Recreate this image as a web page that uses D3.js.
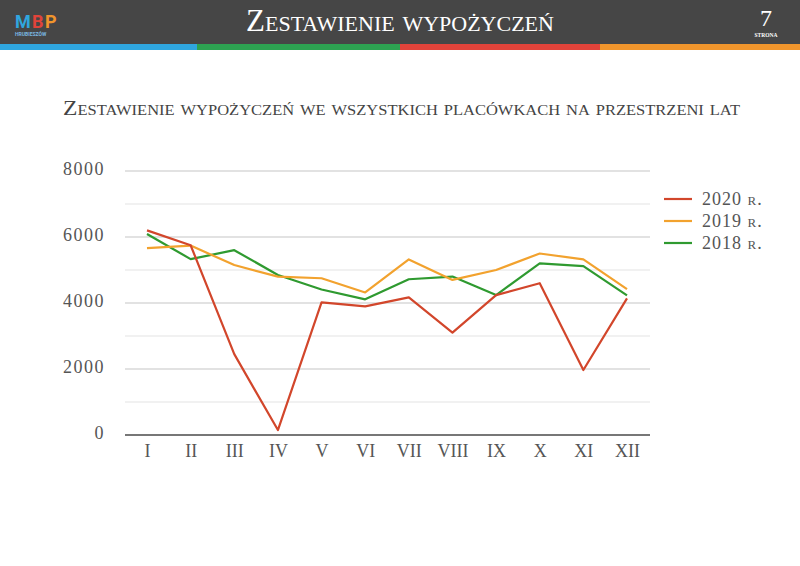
<!DOCTYPE html>
<html>
<head>
<meta charset="utf-8">
<script src="https://d3js.org/d3.v7.min.js"></script>
<style>
  body { margin: 0; background: #fff; }
  text { font-family: "Liberation Serif", "DejaVu Serif", serif; }
</style>
</head>
<body>
<div id="container"></div>
<script>
var months = ["I", "II", "III", "IV", "V", "VI", "VII", "VIII", "IX", "X", "XI", "XII"];
var seriesNames = ["2020 r.", "2019 r.", "2018 r."];
var seriesColors = ["#d2462b", "#f2a22e", "#2f9a30"];
var values2020 = [6200, 5750, 2450, 150, 4020, 3900, 4170, 3100, 4240, 4600, 1970, 4140];
var values2019 = [5660, 5740, 5150, 4800, 4750, 4320, 5320, 4700, 5000, 5500, 5320, 4420];
var values2018 = [6090, 5330, 5600, 4850, 4410, 4110, 4720, 4800, 4240, 5200, 5120, 4230];
var yTicks = [0, 2000, 4000, 6000, 8000];
var yGrid = [1000, 2000, 3000, 4000, 5000, 6000, 7000, 8000];

var width = 800, height = 566;
var svg = d3.select("#container").append("svg")
    .attr("width", width)
    .attr("height", height);

// header band
svg.append("rect").attr("x", 0).attr("y", 0).attr("width", width).attr("height", 44).attr("fill", "#464646");
var stripes = ["#2fa6df", "#2da251", "#e1433a", "#f0952c"];
stripes.forEach(function(c, i) {
    svg.append("rect").attr("x", i * 200 - (i == 1 ? 3 : 0)).attr("y", 44)
        .attr("width", 200 + (i == 1 ? 3 : 0)).attr("height", 6).attr("fill", c);
});
svg.append("text").attr("x", 400).attr("y", 31).attr("text-anchor", "middle")
    .attr("fill", "#fff").style("font-size", "31px").style("font-variant", "small-caps")
    .text("Zestawienie wypożyczeń");
svg.append("text").attr("x", 766).attr("y", 26).attr("text-anchor", "middle")
    .attr("fill", "#fff").style("font-size", "24px").text("7");
svg.append("text").attr("x", 766).attr("y", 37).attr("text-anchor", "middle")
    .attr("fill", "#fff").style("font-size", "5.5px").style("font-weight", "bold").text("STRONA");

// logo
var logo = svg.append("g").attr("transform", "translate(15,28)");
[["M", "#2fa6df", 0], ["B", "#e1433a", 17], ["P", "#f0952c", 30]].forEach(function(l) {
    logo.append("text").attr("x", l[2]).attr("y", 0).attr("fill", l[1])
        .style("font-family", "Roboto, sans-serif").style("font-weight", "bold")
        .style("font-size", "18px").text(l[0]);
});
logo.append("text").attr("x", 0).attr("y", 8).attr("fill", "#7ab6e0")
    .style("font-family", "Roboto, sans-serif").style("font-size", "5px").style("font-weight", "bold")
    .text("HRUBIESZÓW");

// chart title
svg.append("text").attr("x", 63).attr("y", 115)
    .attr("fill", "#444").style("font-size", "20px").style("font-variant", "small-caps")
    .attr("textLength", 677).attr("lengthAdjust", "spacingAndGlyphs")
    .text("Zestawienie wypożyczeń we wszystkich placówkach na przestrzeni lat");

var plotLeft = 125, plotRight = 650, plotTop = 171, plotBottom = 435;
var x = d3.scalePoint().domain(months).range([147, 627]);
var y = d3.scaleLinear().domain([0, 8000]).range([plotBottom, plotTop]);

// gridlines
svg.append("g").selectAll("line").data(yGrid).enter().append("line")
    .attr("x1", plotLeft).attr("x2", plotRight)
    .attr("y1", function(d) { return y(d); }).attr("y2", function(d) { return y(d); })
    .attr("stroke", function(d) { return d % 2000 == 0 ? "#d9d9d9" : "#ededed"; })
    .attr("stroke-width", 1.3);

// y labels
var yAxis = svg.append("g").attr("transform", "translate(108,-3)")
    .call(d3.axisLeft(y).tickValues(yTicks).tickSize(0).tickFormat(d3.format("d")));
yAxis.select(".domain").remove();
yAxis.selectAll("text").attr("fill", "#555").style("font-size", "18px")
    .style("letter-spacing", "1.5px").attr("dy", "0.35em");

// x axis
var xAxis = svg.append("g").attr("transform", "translate(0," + plotBottom + ")")
    .call(d3.axisBottom(x).tickSize(0).tickPadding(9));
xAxis.select(".domain").remove();
xAxis.selectAll("text").attr("fill", "#555").style("font-size", "18px");
svg.append("line").attr("x1", plotLeft).attr("x2", plotRight).attr("y1", plotBottom).attr("y2", plotBottom)
    .attr("stroke", "#777").attr("stroke-width", 2);

// lines
var series = [values2020, values2019, values2018];
var line = d3.line()
    .x(function(d, i) { return x(months[i]); })
    .y(function(d) { return y(d); });
for (var s = series.length - 1; s >= 0; s--) {
    svg.append("path").datum(series[s])
        .attr("d", line)
        .attr("fill", "none")
        .attr("stroke", seriesColors[s])
        .attr("stroke-width", 2.2)
        .attr("stroke-linejoin", "round");
}

// legend
var legend = svg.append("g").attr("transform", "translate(664,199)");
seriesNames.forEach(function(n, i) {
    var g = legend.append("g").attr("transform", "translate(0," + i * 22 + ")");
    g.append("line").attr("x1", 0).attr("x2", 28).attr("y1", 0).attr("y2", 0)
        .attr("stroke", seriesColors[i]).attr("stroke-width", 2.2);
    g.append("text").attr("x", 38).attr("y", 0).attr("dy", "0.35em")
        .attr("fill", "#555").style("font-size", "18px").style("font-variant", "small-caps")
        .style("letter-spacing", "1px")
        .text(n);
});
</script>
</body>
</html>
